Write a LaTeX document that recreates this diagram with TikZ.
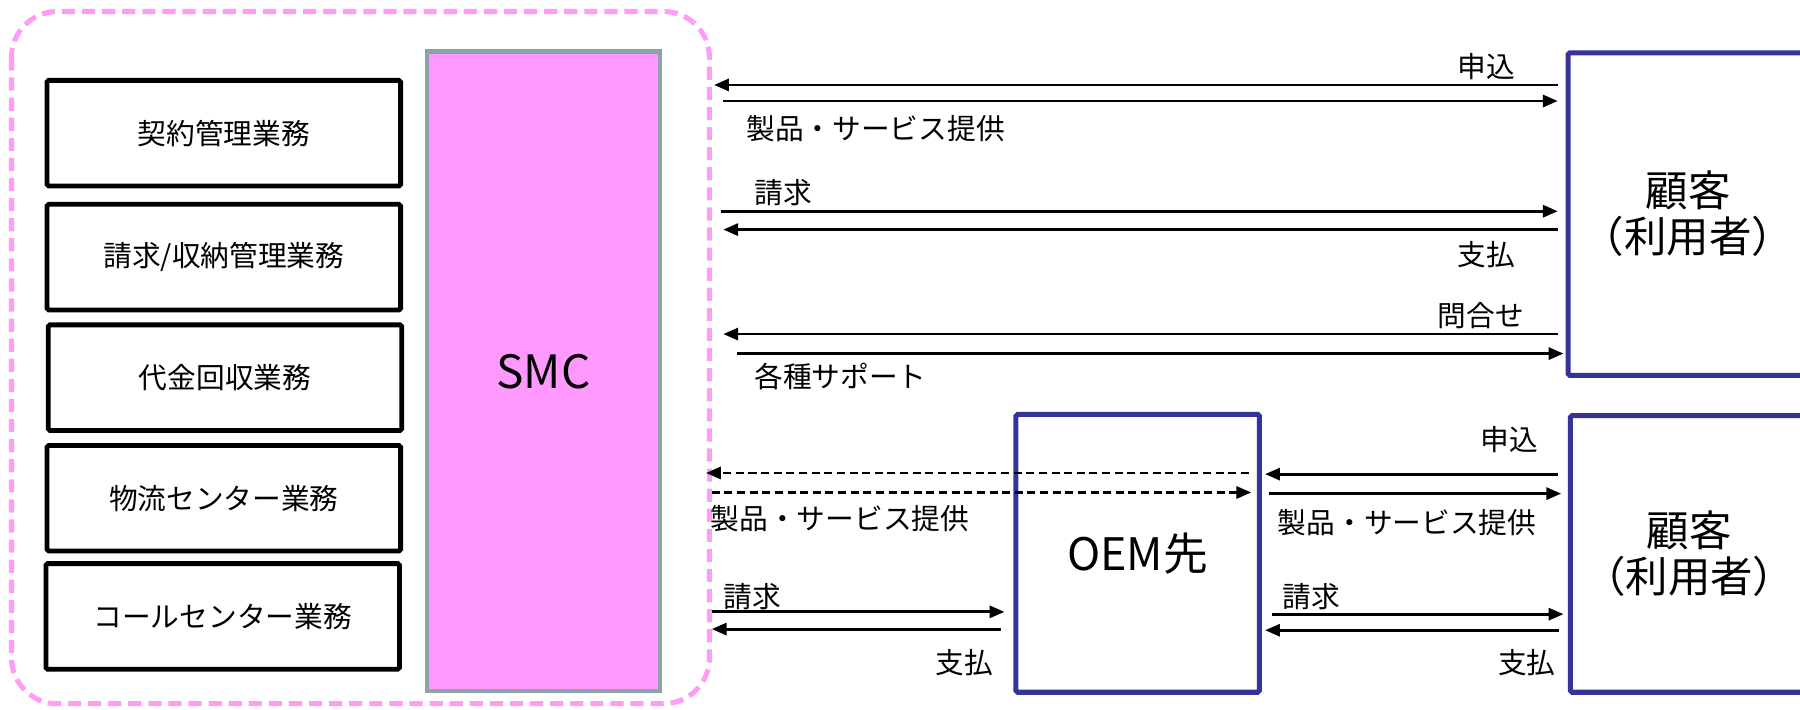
\documentclass[tikz,border=0pt]{standalone}
\usepackage{fontspec}
\setmainfont{Noto Sans CJK JP}
\usetikzlibrary{arrows.meta}
\definecolor{pinkfill}{HTML}{FF99FF}
\definecolor{pinkdash}{HTML}{FF9CF6}
\definecolor{smcborder}{HTML}{8FA3A6}
\definecolor{navy}{HTML}{333399}
\begin{document}
\begin{tikzpicture}[x=1pt,y=-1pt,
  taskbox/.style={draw=black,line width=4.2pt,rounded corners=1.5pt,minimum width=308pt,minimum height=92pt,inner sep=0pt,font=\fontsize{25}{30}\selectfont},
  actor/.style={draw=navy,line width=4.4pt,rounded corners=1.5pt,inner sep=0pt,align=center},
  lbl/.style={inner sep=0pt,font=\fontsize{25}{30}\selectfont},
  arr/.style={line width=2.5pt,-{Triangle[length=13pt,width=10.5pt]}},
  darr/.style={arr,dash pattern=on 7pt off 4pt}]
\useasboundingbox (0,0) rectangle (1568,618);
% SMC domain
\draw[pinkdash,line width=4.4pt,dash pattern=on 11.5pt off 6pt,rounded corners=40pt] (10,10) rectangle (618,613);
\node[taskbox] (t1) at (195,116) {契約管理業務};
\node[taskbox] (t2) at (195,224) {請求/収納管理業務};
\node[taskbox] (t3) at (196,329) {代金回収業務};
\node[taskbox] (t4) at (195,434) {物流センター業務};
\node[taskbox] (t5) at (194,537) {コールセンター業務};
\node[draw=smcborder,fill=pinkfill,line width=4.2pt,minimum width=203pt,minimum height=557pt,inner sep=0pt,font=\fontsize{40}{44}\selectfont] (smc) at (473.5,323.5) {SMC};
% actors
\node[actor,minimum width=209pt,minimum height=281pt,font=\fontsize{37}{40}\selectfont] (c1) at (1470.5,186.5) {顧客\\（利用者）};
\node[actor,minimum width=207pt,minimum height=241pt,font=\fontsize{37}{40}\selectfont] (c2) at (1471.5,482.5) {顧客\\（利用者）};
\node[actor,minimum width=212pt,minimum height=242pt,font=\fontsize{39}{42}\selectfont] (oem) at (991,482) {OEM先};
% coordinates
\coordinate (a1l) at (622,74);   \coordinate (a1r) at (1357,74);
\coordinate (a2l) at (630,88);   \coordinate (a2r) at (1357,88);
\coordinate (a3l) at (628,184);  \coordinate (a3r) at (1357,184);
\coordinate (a4l) at (630,200);  \coordinate (a4r) at (1357,200);
\coordinate (a5l) at (630,291);  \coordinate (a5r) at (1357,291);
\coordinate (a6l) at (642,308);  \coordinate (a6r) at (1362,308);
\coordinate (d1l) at (615,412);  \coordinate (d1r) at (1088,412);
\coordinate (d2l) at (620,429);  \coordinate (d2r) at (1090,429);
\coordinate (b1l) at (1102,413); \coordinate (b1r) at (1357,413);
\coordinate (b2l) at (1105,430); \coordinate (b2r) at (1360,430);
\coordinate (b3l) at (1108,535); \coordinate (b3r) at (1362,535);
\coordinate (b4l) at (1102,549); \coordinate (b4r) at (1358,549);
\coordinate (e1l) at (620,533);  \coordinate (e1r) at (875,533);
\coordinate (e2l) at (620,548);  \coordinate (e2r) at (872,548);
% arrows
\draw[arr] (a1r) -- (a1l);
\draw[arr] (a2l) -- (a2r);
\draw[arr] (a3l) -- (a3r);
\draw[arr] (a4r) -- (a4l);
\draw[arr] (a5r) -- (a5l);
\draw[arr] (a6l) -- (a6r);
\draw[darr] (d1r) -- (d1l);
\draw[darr] (d2l) -- (d2r);
\draw[arr] (b1r) -- (b1l);
\draw[arr] (b2l) -- (b2r);
\draw[arr] (b3l) -- (b3r);
\draw[arr] (b4r) -- (b4l);
\draw[arr] (e1l) -- (e1r);
\draw[arr] (e2r) -- (e2l);
% labels
\node[lbl] (l1) at (1295,58) {申込};
\node[lbl,anchor=west] (l2) at (650,112) {製品・サービス提供};
\node[lbl,anchor=west] (l3) at (657,168) {請求};
\node[lbl] (l4) at (1295,222) {支払};
\node[lbl] (l5) at (1290,275) {問合せ};
\node[lbl,anchor=west] (l6) at (657,328) {各種サポート};
\node[lbl,anchor=west] (l7) at (619,452) {製品・サービス提供};
\node[lbl] (l8) at (1315,383) {申込};
\node[lbl,anchor=west] (l9) at (1113,455) {製品・サービス提供};
\node[lbl,anchor=west] (l10) at (1117,520) {請求};
\node[lbl] (l11) at (1330,577) {支払};
\node[lbl,anchor=west] (l12) at (630,520) {請求};
\node[lbl] (l13) at (840,577) {支払};
\end{tikzpicture}
\end{document}
